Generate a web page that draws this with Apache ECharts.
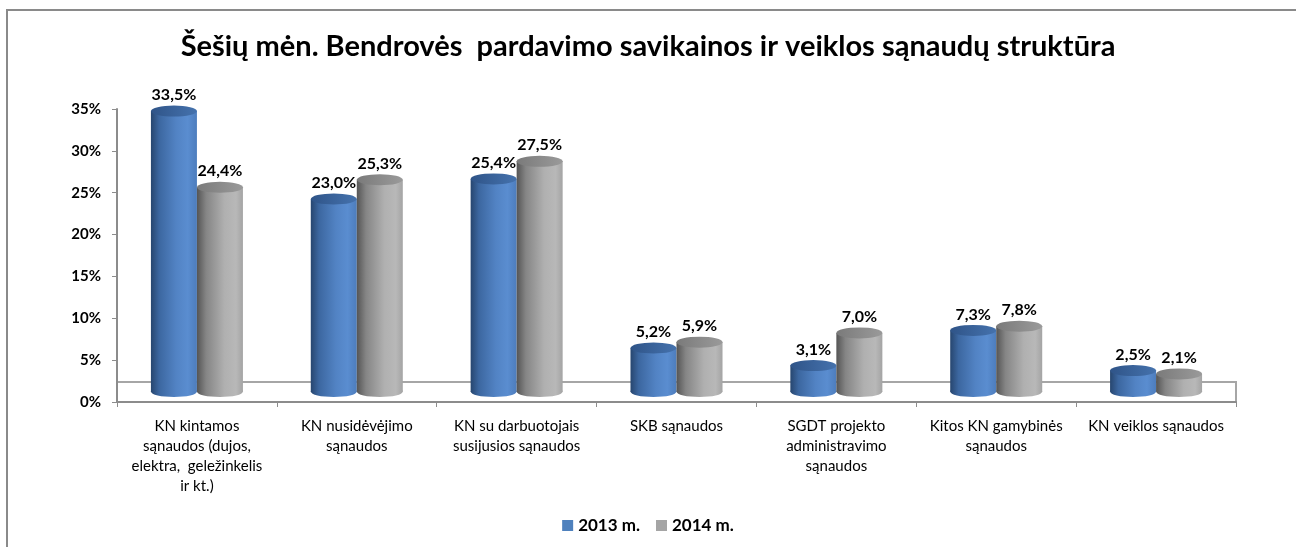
<!DOCTYPE html>
<html>
<head>
<meta charset="utf-8">
<script src="https://cdn.jsdelivr.net/npm/echarts@6/dist/echarts.min.js"></script>
<style>
  html, body { margin: 0; padding: 0; background: #fff; }
  #main { width: 1296px; height: 547px; }
</style>
</head>
<body>
<div id="main"></div>
<script>
var categories = [
  "KN kintamos\nsąnaudos (dujos,\nelektra,  geležinkelis\nir kt.)",
  "KN nusidėvėjimo\nsąnaudos",
  "KN su darbuotojais\nsusijusios sąnaudos",
  "SKB sąnaudos",
  "SGDT projekto\nadministravimo\nsąnaudos",
  "Kitos KN gamybinės\nsąnaudos",
  "KN veiklos sąnaudos"
];
var values2013 = [33.5, 23.0, 25.4, 5.2, 3.1, 7.3, 2.5];
var values2014 = [24.4, 25.3, 27.5, 5.9, 7.0, 7.8, 2.1];
var seriesNames = ["2013 m.", "2014 m."];

var font = "Lato";
var barW = 46;

function pct(v) {
  return v.toFixed(1).replace(".", ",") + "%";
}

var blueBody = new echarts.graphic.LinearGradient(0, 0, 1, 0, [
  { offset: 0, color: "#27466f" },
  { offset: 0.18, color: "#3c67a0" },
  { offset: 0.55, color: "#5283c4" },
  { offset: 0.8, color: "#5a8dd0" },
  { offset: 1, color: "#4d7dbd" }
]);
var grayBody = new echarts.graphic.LinearGradient(0, 0, 1, 0, [
  { offset: 0, color: "#555555" },
  { offset: 0.2, color: "#858585" },
  { offset: 0.6, color: "#b0b0b0" },
  { offset: 0.85, color: "#b8b8b8" },
  { offset: 1, color: "#a4a4a4" }
]);
var blueTop = new echarts.graphic.LinearGradient(0, 0, 1, 0, [
  { offset: 0, color: "#2f5488" },
  { offset: 1, color: "#4572ad" }
]);
var grayTop = new echarts.graphic.LinearGradient(0, 0, 1, 0, [
  { offset: 0, color: "#7a7a7a" },
  { offset: 1, color: "#9a9a9a" }
]);

function dataLabel() {
  return {
    show: true,
    position: "top",
    distance: 8,
    formatter: function (p) { return pct(p.value); },
    fontFamily: font,
    fontSize: 16,
    fontWeight: "bold",
    color: "#000"
  };
}

function cap(name, data, color, atEnd, xIdx) {
  return {
    name: name,
    type: "pictorialBar",
    xAxisIndex: xIdx,
    yAxisIndex: 1,
    data: data,
    symbol: "circle",
    symbolSize: [barW, 11],
    symbolPosition: atEnd ? "end" : "start",
    symbolOffset: [0, atEnd ? "-50%" : "50%"],
    barGap: "0%",
    barWidth: barW,
    itemStyle: { color: color },
    z: atEnd ? 4 : 2
  };
}

var myChart = echarts.init(document.getElementById("main"));
myChart.setOption({
  backgroundColor: "#fff",
  animation: false,
  title: {
    text: "Šešių mėn. Bendrovės  pardavimo savikainos ir veiklos sąnaudų struktūra",
    left: "center",
    top: 27,
    textStyle: {
      fontFamily: font,
      fontWeight: "bold",
      fontSize: 29,
      color: "#000"
    }
  },
  legend: {
    bottom: 8,
    left: "center",
    icon: "rect",
    itemWidth: 11,
    itemHeight: 11,
    itemGap: 16,
    textStyle: { fontFamily: font, fontSize: 17, fontWeight: "bold", color: "#000" },
    data: [
      { name: seriesNames[0], itemStyle: { color: "#4f81bd" } },
      { name: seriesNames[1], itemStyle: { color: "#a5a5a5" } }
    ]
  },
  grid: {
    left: 117,
    right: 60,
    top: 109,
    bottom: 145
  },
  xAxis: [
    {
      type: "category",
      data: categories,
      axisLine: { lineStyle: { color: "#8c8c8c", width: 2 } },
      axisTick: { show: true, length: 5, interval: 0, lineStyle: { color: "#8c8c8c" } },
      axisLabel: {
        interval: 0,
        margin: 14,
        fontFamily: font,
        fontSize: 15,
        lineHeight: 20,
        color: "#000"
      }
    },
    {
      // second category axis so the base ellipses get their own bar layout
      type: "category",
      data: categories,
      show: false
    }
  ],
  yAxis: [
    {
      type: "value",
      min: 0,
      max: 35,
      interval: 5,
      axisLine: { show: true, lineStyle: { color: "#8c8c8c", width: 2 } },
      axisTick: { show: true, length: 5, lineStyle: { color: "#8c8c8c" } },
      splitLine: { show: false },
      axisLabel: {
        formatter: "{value}%",
        margin: 16,
        fontFamily: font,
        fontSize: 15,
        fontWeight: "bold",
        color: "#000"
      }
    },
    {
      // bars sit in the middle of the 3D floor, slightly above the front axis
      type: "value",
      min: -1.25,
      max: 33.75,
      show: false
    }
  ],
  graphic: [
    {
      type: "polyline",
      shape: { points: [[7, 547], [7, 10], [1296, 10]] },
      style: { stroke: "#8a8a8a", lineWidth: 2, fill: null },
      z: 0
    },
    {
      type: "polyline",
      shape: { points: [[117, 382], [1236, 382], [1236, 402]] },
      style: { stroke: "#a6a6a6", lineWidth: 2, fill: null },
      z: 0
    }
  ],
  series: [
    cap(seriesNames[0], values2013, blueBody, false, 1),
    cap(seriesNames[1], values2014, grayBody, false, 1),
    {
      name: seriesNames[0],
      type: "bar",
      yAxisIndex: 1,
      data: values2013,
      barWidth: barW,
      barGap: "0%",
      itemStyle: { color: blueBody },
      label: dataLabel(),
      z: 3
    },
    {
      name: seriesNames[1],
      type: "bar",
      yAxisIndex: 1,
      data: values2014,
      barWidth: barW,
      barGap: "0%",
      itemStyle: { color: grayBody },
      label: dataLabel(),
      z: 3
    },
    cap(seriesNames[0], values2013, blueTop, true, 0),
    cap(seriesNames[1], values2014, grayTop, true, 0)
  ]
});
</script>
</body>
</html>
